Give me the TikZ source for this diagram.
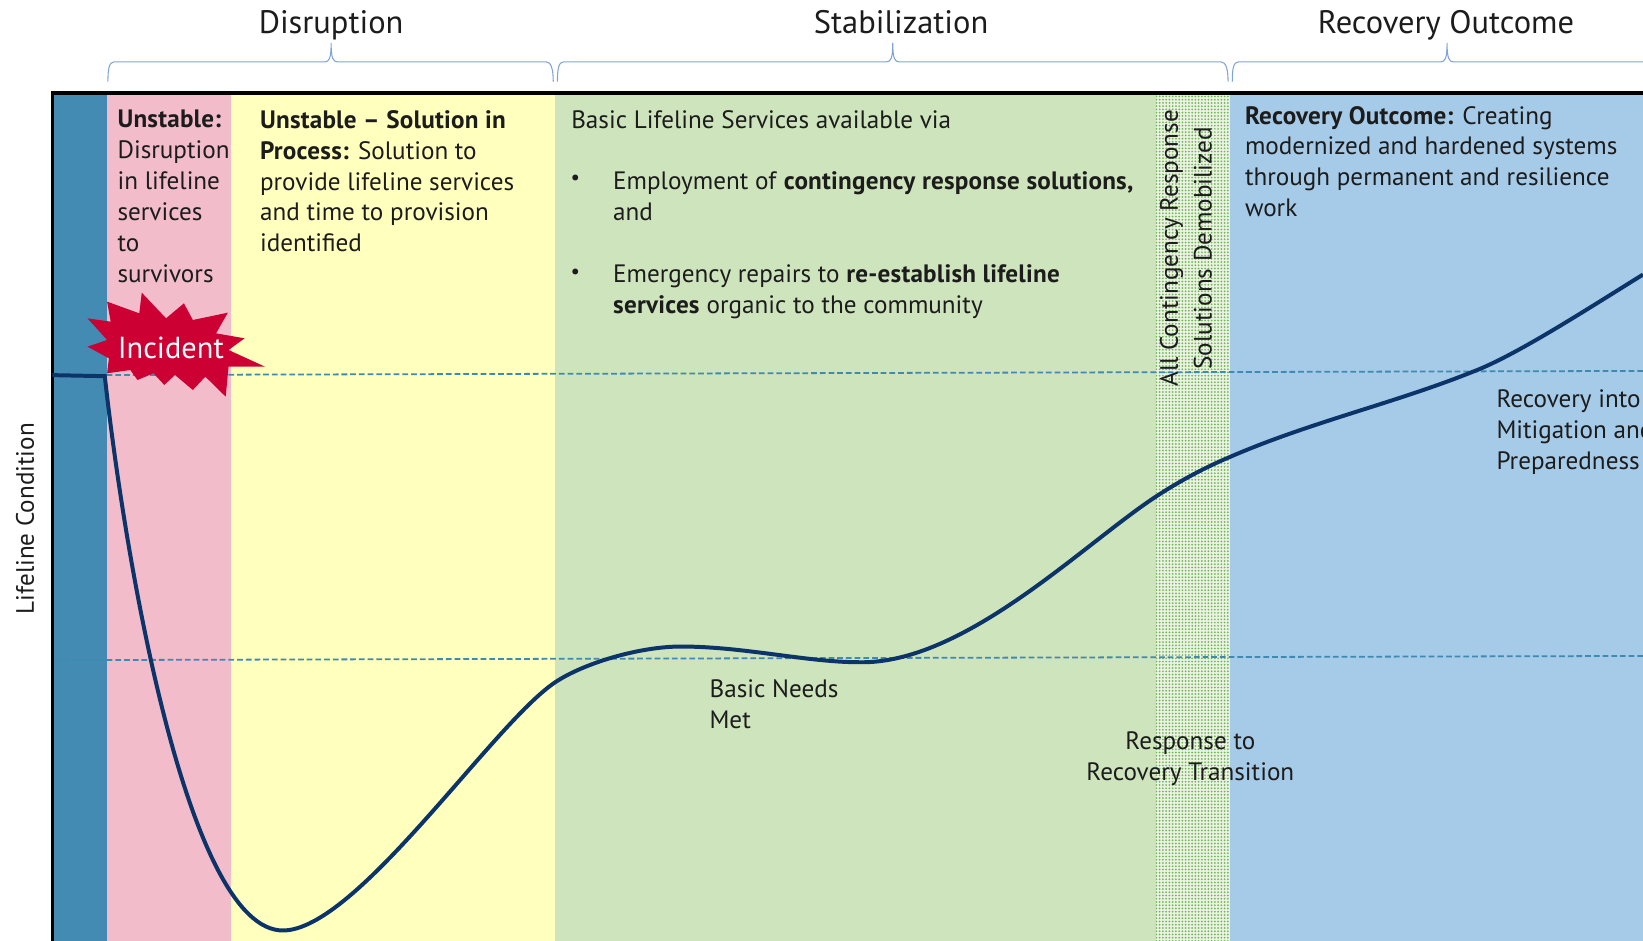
\documentclass[tikz,border=0pt]{standalone}
\usepackage{fontspec}
\setmainfont{PT Sans}[BoldFeatures={LetterSpace=0.9}]
\usetikzlibrary{patterns.meta}
\definecolor{stripc}{HTML}{438BB3}
\definecolor{pinkc}{HTML}{F2BCCB}
\definecolor{yellowc}{HTML}{FFFFBE}
\definecolor{greenc}{HTML}{CEE4BC}
\definecolor{bluec}{HTML}{A6CBE8}
\definecolor{dotbg}{HTML}{EAF3E2}
\definecolor{dotc}{HTML}{74B45A}
\definecolor{curvec}{HTML}{0C3468}
\definecolor{dashc}{HTML}{3F8AB0}
\definecolor{bracec}{HTML}{7FA3D9}
\definecolor{redc}{HTML}{CC0033}
\definecolor{inkc}{HTML}{1C1C1C}
\tikzset{
  band/.style={draw=none,fill=#1},
  title/.style={font=\fontsize{31}{34}\selectfont,text=inkc,inner sep=0pt,anchor=center},
  body/.style={font=\fontsize{24}{29.5}\selectfont,text=inkc,inner sep=0pt,anchor=north west,align=left},
  vert/.style={font=\fontsize{24}{28}\selectfont,text=inkc,rotate=90,inner sep=0pt},
  bullet/.style={font=\fontsize{20}{22}\selectfont,text=inkc,inner sep=0pt},
  bracket/.style={draw=bracec,line width=1pt},
  level/.style={draw=dashc,line width=1.7pt,dash pattern=on 5.5pt off 2.8pt},
  curve/.style={draw=curvec,line width=3.8pt}
}
\begin{document}
\begin{tikzpicture}[x=1pt,y=-1pt]
\useasboundingbox (0,0) rectangle (1568,898);
\clip (0,0) rectangle (1568,898);
% bands
\fill[band=stripc] (50,89) rectangle (102,898);
\fill[band=pinkc] (102,89) rectangle (220,898);
\fill[band=yellowc] (220,89) rectangle (530,898);
\fill[band=greenc] (530,89) rectangle (1103,898);
\fill[band=dotbg] (1103,89) rectangle (1174,898);
\fill[pattern={Dots[distance=3.1pt,radius=0.95pt]},pattern color=dotc] (1103,89) rectangle (1174,898);
\fill[band=bluec] (1174,89) rectangle (1568,898);
% frame
\draw[black,line width=3.5pt] (50,898) -- (50,88.5) -- (1568,88.5);
% levels
\coordinate (l1a) at (52,358); \coordinate (l1b) at (1568,354);
\coordinate (l2a) at (52,630); \coordinate (l2b) at (1568,626);
\draw[level] (l1a) -- (l1b);
\draw[level] (l2a) -- (l2b);
% braces
\draw[bracket] (103,78) .. controls (103,66) and (104,59) .. (109,59) -- (310,59) .. controls (314,59) and (316,56) .. (316,41) .. controls (316,56) and (318,59) .. (322,59) -- (521,59) .. controls (526,59) and (528,66) .. (528,78);
\draw[bracket] (532,78) .. controls (532,66) and (533,59) .. (538,59) -- (846,59) .. controls (850,59) and (852,56) .. (852,41) .. controls (852,56) and (854,59) .. (858,59) -- (1165,59) .. controls (1170,59) and (1172,66) .. (1172,78);
\draw[bracket] (1176,78) .. controls (1176,66) and (1177,59) .. (1182,59) -- (1375,59) .. controls (1379,59) and (1381,56) .. (1381,41) .. controls (1381,56) and (1383,59) .. (1387,59) -- (1568,59);
% titles
\node[title,text depth=0pt,text height=0pt] (t1) at (316,32) {Disruption};
\node[title,text depth=0pt,text height=0pt] (t2) at (860,32) {Stabilization};
\node[title,text depth=0pt,text height=0pt] (t3) at (1380,32) {Recovery Outcome};
\node[vert] (axis) at (24,495) {Lifeline Condition};
% curve
\draw[curve] (50,358) -- (100,359) .. controls (120,540) and (180,888) .. (270,888)
  .. controls (340,888) and (470,691) .. (530,651)
  .. controls (557,633) and (610,617) .. (650,617)
  .. controls (710,617) and (770,632) .. (820,632)
  .. controls (920,634) and (1033,520) .. (1103,474)
  .. controls (1125,459.5) and (1150,446) .. (1174,436)
  .. controls (1250,403) and (1330,385) .. (1405,355)
  .. controls (1445,340) and (1510,298) .. (1568,262);
% incident star
\begin{scope}[x=0.3408pt,y=-0.3181pt]
\fill[redc] (300,905) -- (390,940) -- (397,878) -- (465,955) -- (515,910) -- (540,960) -- (638,938) -- (605,1000) -- (685,1015) -- (640,1050) -- (742,1100) -- (640,1100) -- (632,1190) -- (575,1130) -- (540,1170) -- (490,1125) -- (460,1155) -- (430,1120) -- (385,1140) -- (365,1110) -- (300,1120) -- (305,1075) -- (245,1040) -- (300,1020) -- (245,955) -- (310,965) -- cycle;
\end{scope}
\node[font=\fontsize{29}{32}\selectfont,text=white,inner sep=0pt] (incident) at (163,332) {Incident};
% text blocks
\node[body] (a) at (112,105) {\textbf{Unstable:}\\Disruption\\in lifeline\\services\\to\\survivors};
\node[body] (b) at (248,105) {\textbf{Unstable – Solution in}\\\textbf{Process:} Solution to\\provide lifeline services\\and time to provision\\identified};
\node[body] (c) at (545,105) {Basic Lifeline Services available via};
\node[body] (d1) at (585,164) {Employment of \textbf{contingency response solutions,}\\and};
\node[body] (d2) at (585,252) {Emergency repairs to \textbf{re-establish lifeline}\\\textbf{services} organic to the community};
\node[bullet] (b1) at (549,172) {•};
\node[bullet] (b2) at (549,261) {•};
\node[body] (e) at (1188,101) {\textbf{Recovery Outcome:} Creating\\modernized and hardened systems\\through permanent and resilience\\work};
\node[body] (f) at (1428,372) {Recovery into\\Mitigation and\\Preparedness};
\node[body] (g) at (677,648) {Basic Needs\\Met};
\node[body,anchor=north,align=center] (h) at (1136,698) {Response to\\Recovery Transition};
\node[vert] (r1) at (1118,237) {All Contingency Response};
\node[vert] (r2) at (1148,237) {Solutions Demobilized};
\end{tikzpicture}
\end{document}
